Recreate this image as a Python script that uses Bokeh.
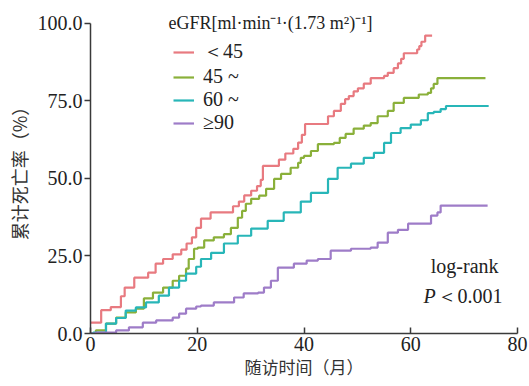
from bokeh.plotting import figure
from bokeh.models import (Range1d, FixedTicker, NumeralTickFormatter, Legend,
                          LegendItem, Label)
from bokeh.embed import file_html
from bokeh.resources import INLINE

# ---------------- data ----------------
series_names = ["＜45", "45 ~", "60 ~", "≥90"]
series_colors = ["#E87A80", "#8AB03A", "#28B6B8", "#9E7CC8"]

t_lt45 = [0, 2.0, 3.8, 5.7, 6.4, 8.2, 10.8, 12.2, 13.6, 15.4, 17.0, 18.0, 19.0,
          19.8, 20.7, 22.5, 26.7, 27.8, 28.8, 30.1, 31.2, 31.9, 32.3, 35.3,
          36.5, 38.0, 38.9, 39.6, 40.2, 44.5, 45.6, 46.9, 47.7, 48.4, 49.3,
          50.1, 51.2, 52.5, 55.0, 55.7, 56.8, 57.6, 58.2, 58.7, 61.2, 61.6,
          62.0, 62.7, 64.0]
v_lt45 = [3.5, 7.5, 8.5, 12.0, 14.8, 18.0, 19.6, 22.5, 24.0, 25.5, 27.0, 29.0,
          31.0, 34.0, 37.0, 39.0, 41.0, 42.5, 44.5, 46.0, 47.5, 49.5, 54.0,
          56.0, 58.0, 59.5, 61.5, 64.0, 67.5, 70.0, 71.7, 74.0, 75.5, 76.5,
          78.0, 79.0, 80.5, 82.3, 83.0, 84.0, 85.5, 87.0, 88.5, 90.3, 91.5,
          92.6, 94.0, 96.0, 96.0]

t_45 = [0, 1.0, 2.9, 4.8, 6.6, 8.5, 10.0, 11.7, 13.6, 15.4, 16.6, 17.9, 18.4,
        19.4, 20.1, 21.3, 23.1, 25.0, 26.3, 27.6, 28.4, 29.1, 30.1, 31.6,
        32.9, 34.4, 35.7, 37.5, 38.9, 39.4, 40.0, 41.3, 42.6, 45.6, 46.7,
        47.8, 49.3, 51.2, 52.5, 53.8, 55.7, 56.8, 58.7, 61.5, 63.2, 63.8,
        64.3, 65.0, 74.0]
v_45 = [0, 1.0, 3.2, 5.1, 6.8, 8.0, 11.3, 13.2, 14.8, 17.0, 18.6, 20.9, 24.0,
        27.3, 27.7, 30.0, 31.0, 32.0, 34.0, 37.3, 39.5, 41.8, 43.4, 44.4,
        46.6, 49.8, 51.4, 53.4, 55.0, 56.6, 57.2, 58.8, 61.0, 61.4, 63.0,
        64.3, 66.0, 67.0, 67.8, 70.0, 71.7, 74.3, 75.9, 77.0, 77.5, 79.0,
        80.4, 82.3, 82.3]

t_60 = [0, 0.5, 2.9, 4.8, 6.6, 8.5, 10.4, 12.8, 14.7, 16.6, 17.9, 19.8, 20.7,
        22.6, 25.0, 27.6, 30.1, 33.2, 36.2, 39.4, 41.3, 44.5, 46.3, 48.8,
        51.2, 53.1, 55.0, 56.3, 58.1, 60.0, 61.9, 63.2, 64.3, 65.6, 66.6,
        74.6]
v_60 = [0, 0.3, 3.2, 5.0, 7.4, 8.4, 10.0, 12.2, 14.8, 17.0, 19.3, 21.5, 24.0,
        26.0, 29.0, 31.5, 33.8, 36.3, 39.0, 42.5, 45.3, 49.8, 53.4, 54.7,
        56.6, 58.2, 61.4, 64.6, 66.2, 67.3, 68.7, 71.0, 71.4, 72.3, 73.3,
        73.3]

t_90 = [0, 1.0, 4.8, 7.2, 9.8, 12.3, 15.4, 16.6, 17.9, 19.8, 20.7, 23.1, 26.9,
        28.7, 31.4, 32.5, 33.8, 35.1, 38.1, 40.5, 42.6, 45.0, 48.8, 52.5,
        53.8, 55.7, 57.6, 59.5, 63.8, 65.0, 65.6, 74.4]
v_90 = [0, 0.3, 1.0, 2.0, 3.5, 4.2, 5.1, 6.4, 8.0, 8.7, 9.0, 10.0, 11.6, 12.9,
        13.2, 14.8, 17.0, 21.2, 22.5, 23.5, 24.0, 26.7, 27.3, 27.7, 29.3,
        32.5, 33.4, 35.4, 38.0, 39.0, 41.2, 41.2]

x_ticks = [0, 20, 40, 60, 80]
y_ticks = [0, 25, 50, 75, 100]
x_title = "随访时间（月）"
y_title = "累计死亡率（%）"
legend_title = "eGFR[ml·min⁻¹·(1.73 m²)⁻¹]"
stat_line1 = "log-rank"
stat_p = "P"
stat_line2 = "＜0.001"

# ---------------- figure ----------------
SERIF = "Liberation Serif"
CJK = "Noto Sans CJK SC"
AX = "#3a3a3a"
TXT = "#222222"

# the y range reaches a little above 100 so the legend title (drawn inside the
# frame) is not clipped; the axis itself stops at 100 via bounds
p = figure(width=529, height=386, output_backend="svg", toolbar_location=None,
           x_range=Range1d(0, 80), y_range=Range1d(0, 106),
           min_border_left=90, min_border_right=12, min_border_top=4,
           min_border_bottom=53)
p.background_fill_color = "white"
p.border_fill_color = "white"
p.outline_line_color = None
p.xgrid.grid_line_color = None
p.ygrid.grid_line_color = None

series = [(t_lt45, v_lt45), (t_45, v_45), (t_60, v_60), (t_90, v_90)]
renderers = []
for (tt, vv), c in zip(series, series_colors):
    r = p.step(tt, vv, mode="after", line_color=c, line_width=2.2)
    renderers.append(r)

# axes
xa = p.xaxis[0]
xa.ticker = FixedTicker(ticks=x_ticks)
xa.major_tick_in = 6
xa.major_tick_out = 0
xa.minor_tick_line_color = None
xa.axis_line_color = AX
xa.axis_line_width = 1.5
xa.major_tick_line_color = AX
xa.major_tick_line_width = 1.5
xa.major_label_text_font = SERIF
xa.major_label_text_font_size = "20px"
xa.major_label_text_color = TXT
xa.major_label_standoff = 3
xa.axis_label = x_title
xa.axis_label_text_font = CJK
xa.axis_label_text_font_size = "17px"
xa.axis_label_text_font_style = "normal"
xa.axis_label_text_color = "#333333"
xa.axis_label_standoff = 0

ya = p.yaxis[0]
ya.ticker = FixedTicker(ticks=y_ticks)
ya.bounds = (0, 100)
ya.formatter = NumeralTickFormatter(format="0.0")
ya.major_tick_in = 0
ya.major_tick_out = 6
ya.minor_tick_line_color = None
ya.axis_line_color = AX
ya.axis_line_width = 1.5
ya.major_tick_line_color = AX
ya.major_tick_line_width = 1.5
ya.major_label_text_font = SERIF
ya.major_label_text_font_size = "20px"
ya.major_label_text_color = TXT
ya.major_label_standoff = 2
ya.axis_label = y_title
ya.axis_label_text_font = CJK
ya.axis_label_text_font_size = "18px"
ya.axis_label_text_font_style = "normal"
ya.axis_label_text_color = "#333333"
ya.axis_label_standoff = 3

# legend
items = [LegendItem(label=n, renderers=[r]) for n, r in zip(series_names, renderers)]
legend = Legend(items=items, location=(83, 199), padding=0, margin=0,
                spacing=0, glyph_width=21, glyph_height=20, label_height=20,
                label_standoff=9, border_line_color=None,
                background_fill_alpha=0,
                label_text_font=SERIF, label_text_font_size="20px",
                label_text_color=TXT)
p.add_layout(legend, "center")

p.add_layout(Label(x=14.6, y=100, text=legend_title, text_font=SERIF,
                   text_font_size="18px", text_color=TXT,
                   text_baseline="middle", text_align="left"))

p.add_layout(Label(x=70.1, y=21.9, text=stat_line1, text_font=SERIF,
                   text_font_size="20px", text_color=TXT,
                   text_baseline="middle", text_align="center"))
p.add_layout(Label(x=62.4, y=12.2, text=stat_p, text_font=SERIF,
                   text_font_size="20px", text_font_style="italic",
                   text_color=TXT,
                   text_baseline="middle", text_align="left"))
p.add_layout(Label(x=65.0, y=12.2, text=stat_line2, text_font=SERIF,
                   text_font_size="20px", text_color=TXT,
                   text_baseline="middle", text_align="left"))

open("out.html", "w").write(file_html(p, INLINE))
